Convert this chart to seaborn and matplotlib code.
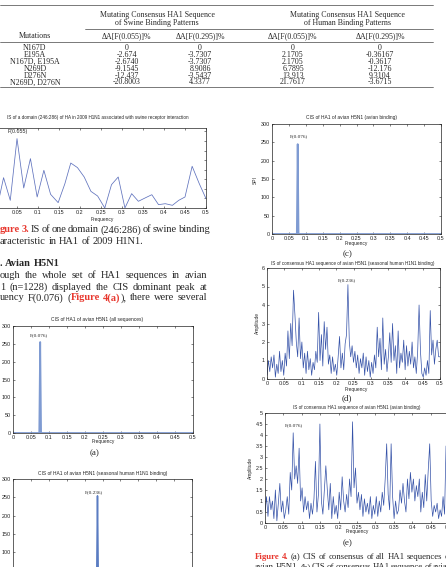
import numpy as np
import pandas as pd
import matplotlib
matplotlib.use("Agg")
import matplotlib.pyplot as plt
import seaborn as sns

sns.set_style("ticks")
plt.rcParams["font.family"] = ["Liberation Sans", "DejaVu Sans"]

W, H = 446, 567

# ---- table values ----
mutations = ["N167D", "E195A", "N167D, E195A", "N269D", "D276N", "N269D, D276N"]
swine_055 = ["0", "-2.674", "-2.6740", "-9.1545", "-12.437", "-20.8003"]
swine_295 = ["0", "-3.7307", "-3.7307", "8.9086", "-3.5437", "4.3377"]
human_055 = ["0", "2.1705", "2.1705", "6.7895", "13.913", "21.7617"]
human_295 = ["0", "-0.36167", "-0.3617", "-12.176", "9.3104", "-3.6715"]
col_heads = ["Mutations", "ΔA[F(0.055)]%", "ΔA[F(0.295)]%", "ΔA[F(0.055)]%", "ΔA[F(0.295)]%"]

# ---- figure 3: IS of domain 246:286 ----
fig3_freq = [0.0, 0.009, 0.018, 0.034, 0.05, 0.066, 0.082, 0.098, 0.114, 0.130, 0.148,
             0.164, 0.178, 0.194, 0.21, 0.226, 0.242, 0.259, 0.275, 0.291, 0.307,
             0.323, 0.339, 0.355, 0.371, 0.387, 0.403, 0.42, 0.435, 0.45, 0.467,
             0.484, 0.5]
fig3_is = [2.0, 1.32, 3.17, 0.80, 7.25, 2.09, 5.16, 1.15, 3.94, 1.43, 0.56,
           2.54, 4.70, 4.22, 3.24, 1.74, 1.25, 0.0, 2.44, 3.24, 0.0,
           1.50, 0.70, 1.05, 1.39, 0.35, 0.45, 0.28, 0.80, 1.15, 4.36,
           2.54, 0.98]

# ---- figure 4 (a), (b), (c): single-peak CIS ----
cis_a_freq = [0.0, 0.073, 0.0755, 0.078, 0.5]
cis_a = [0, 0, 255, 0, 0]
cis_b_freq = [0.0, 0.2335, 0.236, 0.2385, 0.5]
cis_b = [0, 0, 254, 0, 0]
cis_c_freq = [0.0, 0.0735, 0.076, 0.0785, 0.5]
cis_c = [0, 0, 245, 0, 0]

# ---- figure 4 (d): IS consensus, seasonal human H1N1 binding ----
is_d = [0.2, 1.0, 0.4, 1.2, 0.6, 1.3, 0.1, 0.8, 0.3, 1.5,
        0.4, 1.0, 0.2, 1.4, 0.7, 2.6, 1.1, 3.0, 1.8, 4.8,
        3.5, 2.0, 1.2, 3.3, 1.1, 2.0, 0.6, 1.4, 0.3, 1.5,
        0.5, 1.1, 0.2, 0.9, 0.5, 1.5, 0.9, 3.6, 1.0, 2.4,
        0.7, 3.1, 1.6, 2.8, 0.8, 1.3, 0.3, 1.2, 0.4, 0.8,
        0.2, 1.2, 2.3, 0.6, 1.4, 0.5, 1.9, 2.4, 5.1, 2.0,
        1.2, 1.8, 0.9, 1.5, 0.6, 1.3, 0.3, 1.1, 0.6, 1.4,
        0.2, 1.2, 0.4, 1.0, 0.1, 0.9, 0.3, 1.3, 0.6, 2.8,
        1.2, 2.2, 0.5, 3.3, 0.8, 1.6, 0.4, 1.2, 2.5, 0.9,
        3.0, 1.0, 1.8, 0.3, 2.6, 0.6, 1.4, 0.9, 2.1, 0.5,
        1.8, 0.7, 1.5, 0.8, 2.0, 0.6, 1.2, 0.3, 1.5, 4.0,
        1.5, 0.3, 0.1, 0.6, 0.2, 1.0, 0.3, 3.7, 1.3, 2.1,
        0.8, 1.6, 2.1, 1.2, 1.2]

# ---- figure 4 (e): IS consensus, avian binding ----
is_e = [0.5, 1.2, 0.3, 1.2, 0.6, 1.0, 0.2, 1.5, 0.1, 0.9,
        1.8, 0.5, 1.0, 0.2, 0.6, 1.2, 0.4, 2.3, 1.5, 4.1,
        2.0, 2.6, 1.8, 3.4, 1.0, 1.6, 0.5, 1.2, 0.6, 1.0,
        0.2, 0.9, 0.4, 1.1, 2.8, 0.5, 1.3, 4.5, 1.0, 0.4,
        1.5, 2.6, 1.5, 0.6, 1.8, 0.2, 1.2, 0.4, 0.8, 0.2,
        1.4, 0.6, 2.1, 1.0, 0.5, 1.3, 0.7, 2.0, 1.2, 4.6,
        1.6, 2.5, 0.9, 1.4, 0.6, 1.3, 0.3, 1.1, 0.5, 0.9,
        0.4, 1.2, 0.2, 0.8, 0.4, 1.2, 0.3, 1.0, 0.5, 1.4,
        0.8, 2.0, 3.6, 1.3, 0.6, 3.6, 1.2, 0.2, 1.0, 0.4,
        0.6, 1.5, 0.9, 1.8, 1.0, 0.5, 2.0, 1.1, 2.3, 1.4,
        2.0, 1.0, 1.7, 1.2, 2.0, 0.5, 1.4, 0.7, 2.2, 1.0,
        2.4, 3.6, 1.0, 0.3, 0.8, 0.5, 0.9, 0.2, 0.6, 0.3,
        1.2, 0.4, 3.5, 1.0, 1.3]

freq_ticks = [0, 0.05, 0.1, 0.15, 0.2, 0.25, 0.3, 0.35, 0.4, 0.45, 0.5]
freq_labels = ["0", "0.05", "0.1", "0.15", "0.2", "0.25", "0.3", "0.35", "0.4", "0.45", "0.5"]

RED = "#e8382f"
SPIKE = "#7f9bd2"
NOISE = "#3552a8"
SANS = ["Liberation Sans", "DejaVu Sans"]
SERIF = ["Liberation Serif", "DejaVu Serif"]

fig = plt.figure(figsize=(W / 100, H / 100), dpi=100)


def px_axes(left, top, right, bottom):
    return fig.add_axes([left / W, 1 - bottom / H, (right - left) / W, (bottom - top) / H])


def style(ax, ylim, yticks, ylabels=None):
    ax.set_xlim(0, 0.5)
    ax.set_ylim(*ylim)
    ax.set_xticks(freq_ticks)
    ax.set_xticklabels(freq_labels)
    ax.set_yticks(yticks)
    if ylabels is not None:
        ax.set_yticklabels(ylabels)
    ax.tick_params(direction="in", length=1.6, width=0.4, labelsize=3.9, pad=1.5,
                   top=True, right=True, colors="#222222")
    for s in ax.spines.values():
        s.set_linewidth(0.5)
        s.set_color("#222222")
    ax.set_xlabel("")
    ax.set_ylabel("")


def draw(ax, x, y, color, lw):
    df = pd.DataFrame({"freq": x, "val": y})
    sns.lineplot(data=df, x="freq", y="val", ax=ax, color=color, lw=lw, estimator=None)


# Figure 3
ax3 = px_axes(-4, 128, 206, 208)
draw(ax3, fig3_freq, fig3_is, "#5f72bd", 0.55)
style(ax3, (0, 8.36), range(0, 9))
ax3.set_yticklabels([])

# (a)
axa = px_axes(13, 326, 193, 433)
draw(axa, cis_a_freq, cis_a, SPIKE, 1.3)
style(axa, (0, 300), range(0, 301, 50))

# (b)
axb = px_axes(13, 479, 192, 589)
draw(axb, cis_b_freq, cis_b, "#5a7cc2", 1.1)
style(axb, (0, 300), range(0, 301, 50))

# (c)
axc = px_axes(272, 124, 441, 234)
draw(axc, cis_c_freq, cis_c, SPIKE, 1.3)
style(axc, (0, 300), range(0, 301, 50))

# (d)
axd = px_axes(267, 268, 440, 379)
draw(axd, np.linspace(0, 0.5, len(is_d)), is_d, NOISE, 0.5)
style(axd, (0, 6), range(0, 7))

# (e)
axe = px_axes(265, 413, 449, 523)
draw(axe, np.linspace(0, 0.5, len(is_e)), is_e, NOISE, 0.5)
style(axe, (0, 5), np.arange(0, 5.01, 0.5),
      ["0", "0.5", "1", "1.5", "2", "2.5", "3", "3.5", "4", "4.5", "5"])

# ---- overlay for page text ----
ov = fig.add_axes([0, 0, 1, 1])
ov.set_xlim(0, W)
ov.set_ylim(H, 0)
ov.axis("off")
renderer = fig.canvas.get_renderer()


def t(x, y, s, size=3.6, ha="center", family=SANS, **kw):
    return ov.text(x, y, s, fontsize=size, ha=ha, va="center", family=family, **kw)


BS = 7.5
RB = {"color": RED, "weight": "bold"}


def words(s, **kw):
    return [[(w, kw)] for w in s.split()]


def justify(x0, x1, y, line, size=BS, spread=True):
    # line: list of words, each word a list of (text, style) pieces
    widths = []
    for w in line:
        ws = []
        for s, kw in w:
            tx = t(0, y, s, size, ha="left", family=SERIF, **kw)
            ws.append(tx.get_window_extent(renderer).width)
            tx.remove()
        widths.append(ws)
    total = sum(sum(ws) for ws in widths)
    gap = (x1 - x0 - total) / (len(line) - 1) if spread else size * 0.35
    gap = max(gap, size * 0.2)
    x = x0
    for w, ws in zip(line, widths):
        for (s, kw), wd in zip(w, ws):
            t(x, y, s, size, ha="left", family=SERIF, **kw)
            x += wd
        x += gap


# table rules
for y0, x0 in [(5, 0), (29, 85), (42, 0), (86.5, 0)]:
    ov.plot([x0, 433], [y0, y0], color="#444444", lw=0.5)

TS = 5.7
t(157, 15, "Mutating Consensus HA1 Sequence", TS, family=SERIF)
t(157, 23, "of Swine Binding Patterns", TS, family=SERIF)
t(347, 15, "Mutating Consensus HA1 Sequence", TS, family=SERIF)
t(347, 23, "of Human Binding Patterns", TS, family=SERIF)
col_x = [35, 127, 200, 293, 380]
for cx, h in zip(col_x, col_heads):
    t(cx, 36, h, TS, family=SERIF)
for i, row in enumerate(zip(mutations, swine_055, swine_295, human_055, human_295)):
    for cx, v in zip(col_x, row):
        t(cx, 48.5 + 6.8 * i, v, TS, family=SERIF)

# figure 3 text
t(98, 118, "IS of a domain (246:286) of HA in 2009 H1N1 associated with swine receptor interaction", 3.3)
t(8, 131, "F(0.055)", 3.8, ha="left")
t(102, 219, "Frequency", 3.5)
justify(0, 207, 230, words("gure 3.", **RB) + words("IS of one domain (246:286) of swine binding"))
justify(0, 207, 242, words("aracteristic in HA1 of 2009 H1N1."), spread=False)

# body text
justify(0, 207, 264, words(". Avian H5N1", weight="bold"), spread=False)
justify(0, 207, 276, words("ough the whole set of HA1 sequences in avian"))
justify(0, 207, 287, words("1 (n=1228) displayed the CIS dominant peak at"))
justify(0, 207, 298, words("uency F(0.076)") + [[("(", {}), ("Figure", RB)], [("4(a)", RB), ("),", {})]]
        + words("there were several"))

# (a)
t(97, 320, "CIS of HA1 of avian H5N1 (all sequences)", 3.5)
t(30, 335, "F(0.076)", 3.8, ha="left", family=SERIF)
t(103, 442, "Frequency", 3.5)
t(95, 453, "(a)", 6.5, family=SERIF)

# (b)
t(103, 474, "CIS of HA1 of avian H5N1 (seasonal human H1N1 binding)", 3.5)
t(85, 492, "F(0.236)", 3.8, ha="left", family=SERIF)

# (c)
t(352, 118, "CIS of HA1 of avian H5N1 (avian binding)", 3.5)
t(290, 136, "F(0.076)", 3.8, ha="left", family=SERIF)
t(255, 180, "SPI", 3.5, rotation=90)
t(356, 243, "Frequency", 3.5)
t(348, 254, "(c)", 6.5, family=SERIF)

# (d)
t(353, 263, "IS of consensus HA1 sequence of avian H5N1 (seasonal human H1N1 binding)", 3.3)
t(347, 280, "F(0.236)", 3.8, family=SERIF)
t(257, 323, "Amplitude", 3.5, rotation=90)
t(356, 389, "Frequency", 3.5)
t(347, 398, "(d)", 6.5, family=SERIF)

# (e)
t(357, 408, "IS of consensus HA1 sequence of avian H5N1 (avian binding)", 3.3)
t(285, 425, "F(0.076)", 3.8, ha="left", family=SERIF)
t(250, 468, "Amplitude", 3.5, rotation=90)
t(357, 532, "Frequency", 3.5)
t(348, 543, "(e)", 6.5, family=SERIF)

# figure 4 caption
CS = 6.3
justify(255, 452, 557, words("Figure 4.", **RB) + words("(a) CIS of consensus of all HA1 sequences of"), size=CS)
justify(255, 452, 567, words("avian H5N1. (b) CIS of consensus HA1 sequence of avian"), size=CS)

fig.savefig("out.png", dpi=100)
